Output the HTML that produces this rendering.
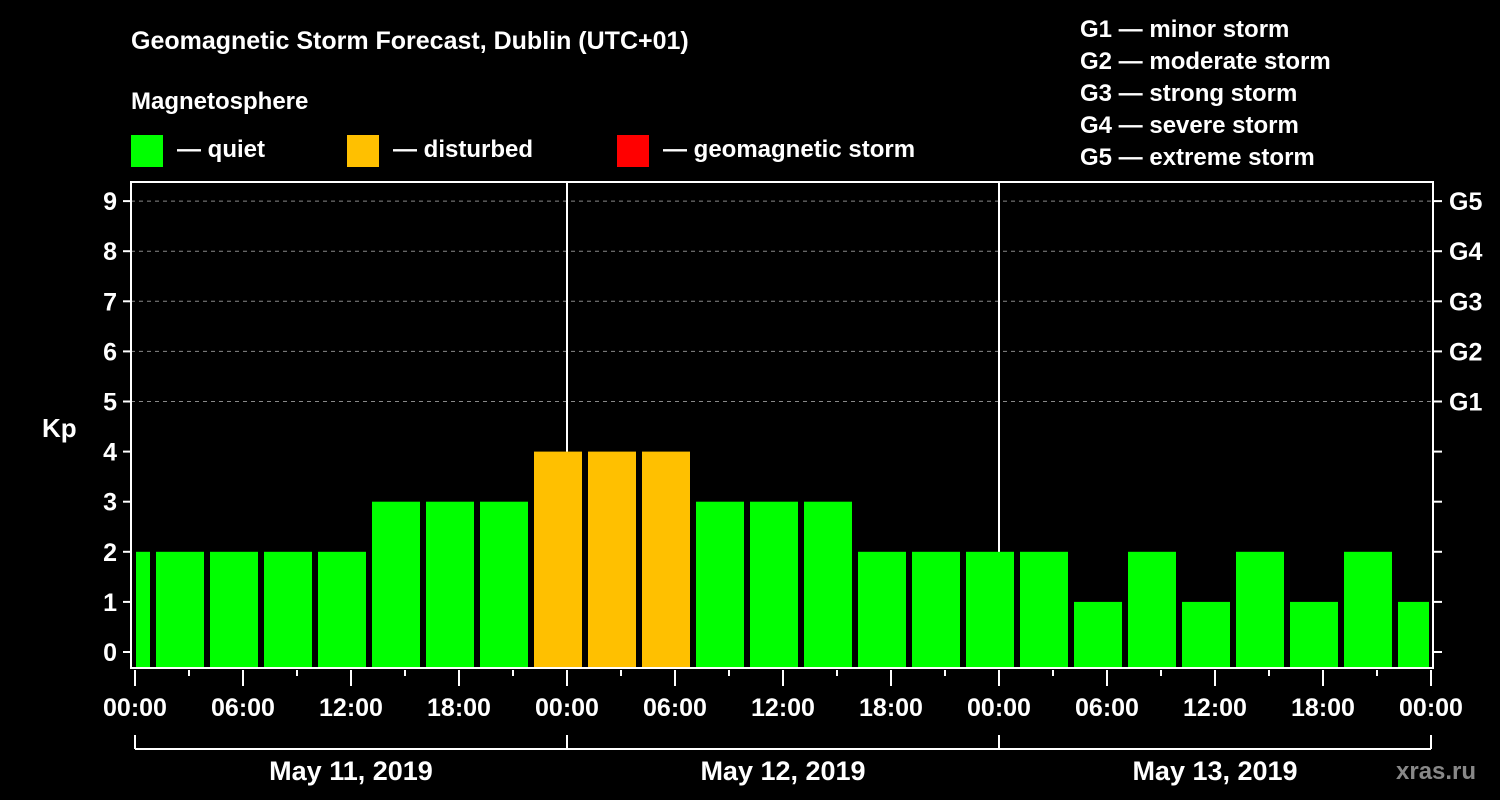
<!DOCTYPE html>
<html><head><meta charset="utf-8"><style>
body{margin:0;background:#000;}
svg{display:block;font-family:"Liberation Sans",Arial,sans-serif;font-weight:bold;}
</style></head><body>
<svg id="c" width="1500" height="800" viewBox="0 0 1500 800">
<rect width="1500" height="800" fill="#000"/>
<text x="131" y="49" fill="#fff" font-size="25">Geomagnetic Storm Forecast, Dublin (UTC+01)</text>
<text x="131" y="109" fill="#fff" font-size="24">Magnetosphere</text>
<g><rect x="131" y="135" width="32" height="32" fill="#00ff00"/><text x="177" y="157" fill="#fff" font-size="24">— quiet</text></g>
<g><rect x="347" y="135" width="32" height="32" fill="#ffc000"/><text x="393" y="157" fill="#fff" font-size="24">— disturbed</text></g>
<g><rect x="617" y="135" width="32" height="32" fill="#ff0000"/><text x="663" y="157" fill="#fff" font-size="24">— geomagnetic storm</text></g>
<g fill="#fff" font-size="24">
<text x="1080" y="37">G1 — minor storm</text>
<text x="1080" y="69">G2 — moderate storm</text>
<text x="1080" y="101">G3 — strong storm</text>
<text x="1080" y="133">G4 — severe storm</text>
<text x="1080" y="165">G5 — extreme storm</text>
</g>
<text x="42" y="437" fill="#fff" font-size="26">Kp</text>
<text x="1396" y="779" fill="#888" font-size="24">xras.ru</text>
<g id="plot"></g>
</svg>
<script>
const kpValues=[2,2,2,2,2,3,3,3,4,4,4,3,3,3,2,2,2,2,1,2,1,2,1,2,1];
const barStartHours=[-2,1,4,7,10,13,16,19,22,25,28,31,34,37,40,43,46,49,52,55,58,61,64,67,70];
const xTickLabels=["00:00","06:00","12:00","18:00","00:00","06:00","12:00","18:00","00:00","06:00","12:00","18:00","00:00"];
const dayLabels=["May 11, 2019","May 12, 2019","May 13, 2019"];
const yTicks=[0,1,2,3,4,5,6,7,8,9];
const gLabels=["G1","G2","G3","G4","G5"];
const ns="http://www.w3.org/2000/svg";
const g=document.getElementById('plot');
const X=h=>135+18*h, Y=v=>652-50.1*v;
const L=131,R=1433,T=182,B=668;
function mk(t,a,p){const e=document.createElementNS(ns,t);for(const k in a)e.setAttribute(k,a[k]);(p||g).appendChild(e);return e;}
// grid
for(let v=5;v<=9;v++){const e=mk('line',{x1:L,x2:R,y1:Y(v),y2:Y(v),stroke:'#888','stroke-dasharray':'4,4','stroke-width':1});

}
// day separators
[24,48].forEach(h=>{const e=mk('line',{x1:X(h),x2:X(h),y1:T,y2:B,stroke:'#fff','stroke-width':2});

});
// bars
kpValues.forEach((v,i)=>{let x0=Math.max(X(barStartHours[i])+3,136),x1=Math.min(X(barStartHours[i]+3)-3,1429);
const col=v>=5?'#ff0000':v>=4?'#ffc000':'#00ff00';
const e=mk('rect',{x:x0,y:Y(v),width:x1-x0,height:B-Y(v),fill:col});

});
// frame
const f=mk('rect',{x:L,y:T,width:R-L,height:B-T,fill:'none',stroke:'#fff','stroke-width':2});


// y ticks
yTicks.forEach(v=>{mk('line',{x1:L-8,x2:L,y1:Y(v),y2:Y(v),stroke:'#fff','stroke-width':2});
mk('line',{x1:R,x2:R+9,y1:Y(v),y2:Y(v),stroke:'#fff','stroke-width':2});
const t=mk('text',{x:L-14,y:Y(v)+9,fill:'#fff','font-size':25,'text-anchor':'end'});t.textContent=v;

});
gLabels.forEach((s,i)=>{const t=mk('text',{x:1449,y:Y(5+i)+9,fill:'#fff','font-size':25});t.textContent=s;

});
// x ticks
for(let h=0;h<=72;h+=3){const big=h%6==0;mk('line',{x1:X(h),x2:X(h),y1:B+2,y2:B+(big?18:8),stroke:'#fff','stroke-width':2});}
xTickLabels.forEach((s,i)=>{const t=mk('text',{x:X(i*6),y:716,fill:'#fff','font-size':25,'text-anchor':'middle'});t.textContent=s;

});
// day brackets
mk('line',{x1:X(0),x2:X(72),y1:749,y2:749,stroke:'#fff','stroke-width':2});
[0,24,48,72].forEach(h=>mk('line',{x1:X(h),x2:X(h),y1:735,y2:749,stroke:'#fff','stroke-width':2}));
dayLabels.forEach((s,i)=>{const t=mk('text',{x:X(i*24+12),y:780,fill:'#fff','font-size':27,'text-anchor':'middle'});t.textContent=s;

});
</script>
</body></html>
